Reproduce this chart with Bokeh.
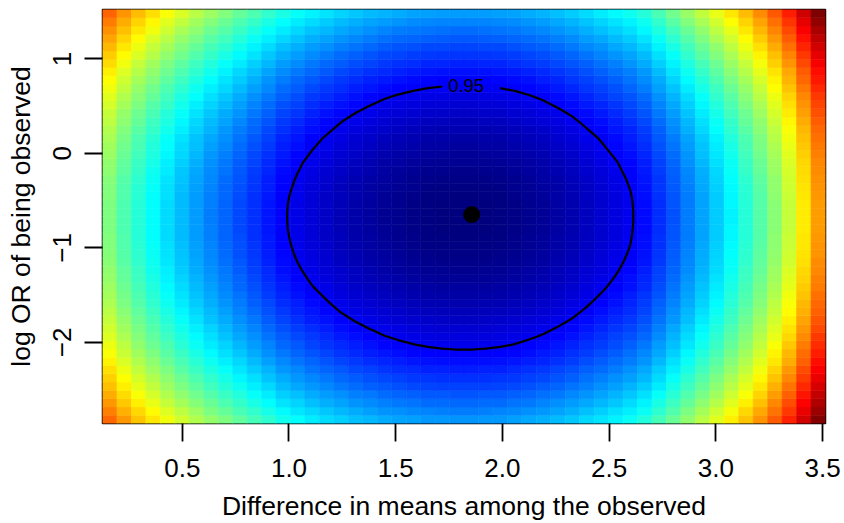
import numpy as np
import contourpy
from bokeh.plotting import figure
from bokeh.models import (ColumnDataSource, LinearColorMapper, Range1d, FixedTicker,
                          CustomJSTickFormatter)
from bokeh.transform import transform
from bokeh.core.properties import value
from bokeh.embed import file_html
from bokeh.resources import INLINE

# ---------------- data ----------------
x_title = "Difference in means among the observed"
y_title = "log OR of being observed"

# grid of cell centres (50 x 50)
x_grid_first, x_grid_last = 0.16, 3.48
y_grid_first, y_grid_last = -2.815, 1.479

# surface profile along x (row through the minimum), left -> right
zx = [4.04, 3.66, 3.34, 3.05, 2.77, 2.51, 2.26, 2.03, 1.82, 1.61, 1.40, 1.19, 0.99,
      0.84, 0.70, 0.58, 0.46, 0.36, 0.27, 0.19, 0.13, 0.08, 0.04, 0.016, 0.002,
      0.002, 0.016, 0.04, 0.08, 0.14, 0.21, 0.30, 0.40, 0.52, 0.64, 0.77, 0.91,
      1.10, 1.38, 1.68, 2.00, 2.32, 2.64, 2.98, 3.34, 3.72, 4.14, 4.62, 5.22, 5.86]

# surface profile along y (column through the minimum), bottom -> top
zy = [2.21, 2.03, 1.86, 1.70, 1.54, 1.40, 1.26, 1.12, 1.00, 0.88, 0.77, 0.67, 0.57,
      0.48, 0.40, 0.33, 0.26, 0.203, 0.151, 0.107, 0.071, 0.042, 0.022, 0.007, 0.001,
      0.001, 0.008, 0.024, 0.05, 0.08, 0.12, 0.16, 0.22, 0.28, 0.34, 0.42, 0.50, 0.59,
      0.69, 0.79, 0.91, 1.03, 1.15, 1.29, 1.43, 1.58, 1.74, 1.90, 2.07, 2.26]

x_ticks = [0.5, 1.0, 1.5, 2.0, 2.5, 3.0, 3.5]
y_ticks = [-2, -1, 0, 1]

contour_level = 0.95
contour_label = "0.95"
contour_label_x = 1.83

best_x = [1.856]
best_y = [-0.648]

# ---------------- styles ----------------
jet_stops = ["#00007F", "#0000FF", "#007FFF", "#00FFFF", "#7FFF7F",
             "#FFFF00", "#FF7F00", "#FF0000", "#7F0000"]
FONT = "Liberation Sans"


def ramp(stops, n):
    rgb = np.array([[int(s[i:i + 2], 16) for i in (1, 3, 5)] for s in stops], float)
    pos = np.linspace(0, 1, len(stops))
    t = np.linspace(0, 1, n)
    cols = np.stack([np.interp(t, pos, rgb[:, k]) for k in range(3)], 1)
    return ["#%02x%02x%02x" % tuple(int(round(v)) for v in c) for c in cols]


palette = ramp(jet_stops, 256)

assert len(zx) == 50 and len(zy) == 50
zx_a = np.array(zx, float)
zy_a = np.array(zy, float)
xs = np.linspace(x_grid_first, x_grid_last, len(zx_a))
ys = np.linspace(y_grid_first, y_grid_last, len(zy_a))
Z = zy_a[:, None] + zx_a[None, :]
dx = xs[1] - xs[0]
dy = ys[1] - ys[0]
XX, YY = np.meshgrid(xs, ys)

src = ColumnDataSource(dict(
    left=(XX - dx / 2).ravel(), right=(XX + dx / 2).ravel(),
    bottom=(YY - dy / 2).ravel(), top=(YY + dy / 2).ravel(), z=Z.ravel()))

mapper = LinearColorMapper(palette=palette, low=float(Z.min()), high=float(Z.max()))

x0, x1 = xs[0] - dx / 2, xs[-1] + dx / 2
y0, y1 = ys[0] - dy / 2, ys[-1] + dy / 2

W, H = 844, 523
ML, MR, MT, MB = 102, 19, 9, 98
frame_w = W - ML - MR

p = figure(width=W, height=H, output_backend="svg", toolbar_location=None,
           x_range=Range1d(x0, x1), y_range=Range1d(y0, y1),
           min_border_left=ML, min_border_right=MR, min_border_top=MT,
           min_border_bottom=MB, background_fill_color="white",
           border_fill_color="white")

p.quad(left="left", right="right", bottom="bottom", top="top", source=src,
       fill_color=transform("z", mapper), line_color=transform("z", mapper),
       line_width=0.6)

# contour line with a gap for its label
gen = contourpy.contour_generator(xs, ys, Z)
lines = gen.lines(contour_level)
# label sits on the upper branch of the contour at contour_label_x
lab_y = None
for ln in lines:
    seg_x, seg_y = ln[:, 0], ln[:, 1]
    for k in range(len(seg_x) - 1):
        xa, xb = seg_x[k], seg_x[k + 1]
        if (xa - contour_label_x) * (xb - contour_label_x) <= 0 and xa != xb:
            f = (contour_label_x - xa) / (xb - xa)
            yy = seg_y[k] + f * (seg_y[k + 1] - seg_y[k])
            if lab_y is None or yy > lab_y:
                lab_y = float(yy)
lab_x = contour_label_x
gap_half = 23.0 * (x1 - x0) / frame_w
for ln in lines:
    lx = ln[:, 0].copy()
    ly = ln[:, 1].copy()
    cut = (np.abs(lx - lab_x) < gap_half) & (ly > lab_y - 0.5)
    lx[cut] = np.nan
    ly[cut] = np.nan
    p.line(lx, ly, line_color="black", line_width=2.2)

p.text(x=[lab_x], y=[lab_y], text=[contour_label], text_font=value(FONT),
       text_font_size="18.5px", text_align="center", text_baseline="middle",
       text_color="black")

p.scatter(x=best_x, y=best_y, size=16, color="black")

# axes
p.grid.visible = False
p.outline_line_color = "black"
p.outline_line_width = 1.5

p.xaxis.ticker = FixedTicker(ticks=x_ticks)
p.xaxis.formatter = CustomJSTickFormatter(code="return tick.toFixed(1);")
p.yaxis.ticker = FixedTicker(ticks=y_ticks)
p.yaxis.formatter = CustomJSTickFormatter(
    code="return tick < 0 ? '\u2212' + Math.abs(tick) : String(tick);")

for ax in (p.xaxis[0], p.yaxis[0]):
    ax.axis_line_color = None
    ax.major_tick_out = 18
    ax.major_tick_in = 0
    ax.major_tick_line_width = 1.8
    ax.major_tick_line_color = "black"
    ax.minor_tick_line_color = None
    ax.major_label_text_font = FONT
    ax.major_label_text_font_size = "26px"
    ax.major_label_text_color = "black"
    ax.axis_label_text_font = FONT
    ax.axis_label_text_font_size = "26.5px"
    ax.axis_label_text_font_style = "normal"
    ax.axis_label_text_color = "black"

p.xaxis.axis_label = x_title
p.yaxis.axis_label = y_title
p.xaxis.major_label_standoff = 17
p.xaxis.axis_label_standoff = 11
p.yaxis.major_label_standoff = 13
p.yaxis.axis_label_standoff = 15
p.yaxis.major_label_orientation = "vertical"

open("out.html", "w").write(file_html(p, INLINE))
